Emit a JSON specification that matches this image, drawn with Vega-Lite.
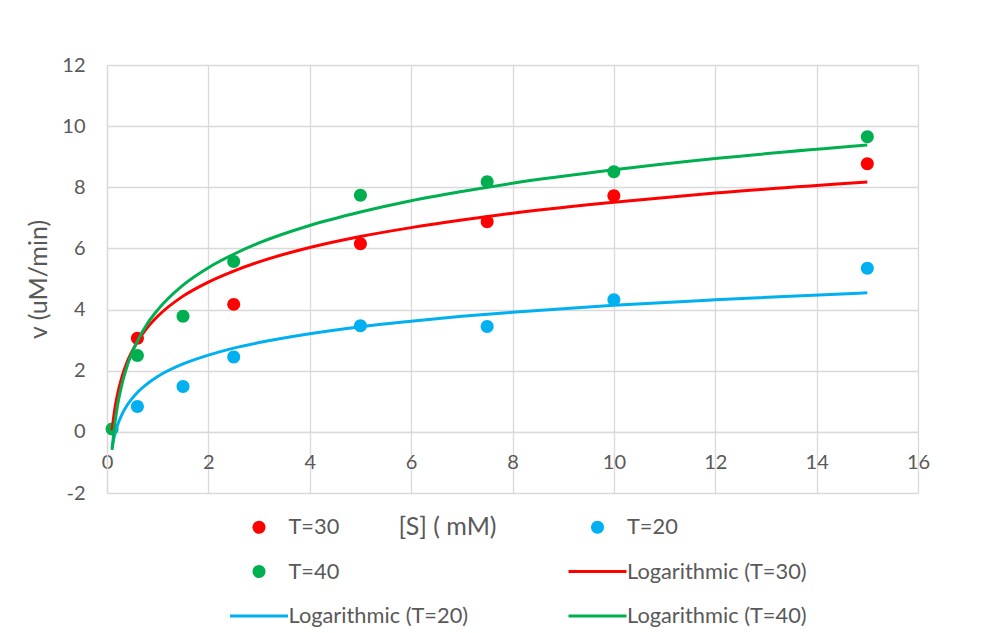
{
  "$schema": "https://vega.github.io/schema/vega-lite/v6.json",
  "width": 811,
  "height": 428,
  "autosize": {"type": "none"},
  "padding": {"left": 107, "top": 65, "right": 68, "bottom": 140},
  "background": "white",
  "config": {
    "font": "Lato",
    "view": {"stroke": null},
    "axis": {
      "labelFont": "Lato", "labelFontSize": 20, "labelColor": "#595959",
      "titleFont": "Lato", "titleFontSize": 25, "titleColor": "#595959", "titleFontWeight": "normal",
      "gridColor": "#d9d9d9", "gridWidth": 1.3, "domainColor": "#d9d9d9", "domainWidth": 1.3,
      "ticks": false
    }
  },
  "datasets": {
    "pts": [
      {"S": 0.6, "v": 3.06, "series": "T=30"},
      {"S": 2.5, "v": 4.17, "series": "T=30"},
      {"S": 5, "v": 6.15, "series": "T=30"},
      {"S": 7.5, "v": 6.87, "series": "T=30"},
      {"S": 10, "v": 7.72, "series": "T=30"},
      {"S": 15, "v": 8.77, "series": "T=30"},
      {"S": 0.6, "v": 0.83, "series": "T=20"},
      {"S": 1.5, "v": 1.48, "series": "T=20"},
      {"S": 2.5, "v": 2.45, "series": "T=20"},
      {"S": 5, "v": 3.47, "series": "T=20"},
      {"S": 7.5, "v": 3.45, "series": "T=20"},
      {"S": 10, "v": 4.32, "series": "T=20"},
      {"S": 15, "v": 5.35, "series": "T=20"},
      {"S": 0.1, "v": 0.09, "series": "T=40"},
      {"S": 0.6, "v": 2.5, "series": "T=40"},
      {"S": 1.5, "v": 3.78, "series": "T=40"},
      {"S": 2.5, "v": 5.57, "series": "T=40"},
      {"S": 5, "v": 7.74, "series": "T=40"},
      {"S": 7.5, "v": 8.18, "series": "T=40"},
      {"S": 10, "v": 8.51, "series": "T=40"},
      {"S": 15, "v": 9.65, "series": "T=40"}
    ],
    "trend": [
      {"S": 0.1, "v": 0.05, "series": "Logarithmic (T=30)"},
      {"S": 0.15, "v": 0.71, "series": "Logarithmic (T=30)"},
      {"S": 0.2, "v": 1.17, "series": "Logarithmic (T=30)"},
      {"S": 0.3, "v": 1.83, "series": "Logarithmic (T=30)"},
      {"S": 0.4, "v": 2.3, "series": "Logarithmic (T=30)"},
      {"S": 0.6, "v": 2.95, "series": "Logarithmic (T=30)"},
      {"S": 0.8, "v": 3.42, "series": "Logarithmic (T=30)"},
      {"S": 1, "v": 3.78, "series": "Logarithmic (T=30)"},
      {"S": 1.5, "v": 4.44, "series": "Logarithmic (T=30)"},
      {"S": 2, "v": 4.9, "series": "Logarithmic (T=30)"},
      {"S": 2.5, "v": 5.26, "series": "Logarithmic (T=30)"},
      {"S": 3, "v": 5.56, "series": "Logarithmic (T=30)"},
      {"S": 4, "v": 6.03, "series": "Logarithmic (T=30)"},
      {"S": 5, "v": 6.39, "series": "Logarithmic (T=30)"},
      {"S": 6, "v": 6.68, "series": "Logarithmic (T=30)"},
      {"S": 7, "v": 6.93, "series": "Logarithmic (T=30)"},
      {"S": 8, "v": 7.15, "series": "Logarithmic (T=30)"},
      {"S": 10, "v": 7.51, "series": "Logarithmic (T=30)"},
      {"S": 12, "v": 7.81, "series": "Logarithmic (T=30)"},
      {"S": 15, "v": 8.17, "series": "Logarithmic (T=30)"},
      {"S": 0.1, "v": -0.52, "series": "Logarithmic (T=20)"},
      {"S": 0.15, "v": -0.11, "series": "Logarithmic (T=20)"},
      {"S": 0.2, "v": 0.18, "series": "Logarithmic (T=20)"},
      {"S": 0.3, "v": 0.59, "series": "Logarithmic (T=20)"},
      {"S": 0.4, "v": 0.88, "series": "Logarithmic (T=20)"},
      {"S": 0.6, "v": 1.29, "series": "Logarithmic (T=20)"},
      {"S": 0.8, "v": 1.58, "series": "Logarithmic (T=20)"},
      {"S": 1, "v": 1.81, "series": "Logarithmic (T=20)"},
      {"S": 1.5, "v": 2.22, "series": "Logarithmic (T=20)"},
      {"S": 2, "v": 2.51, "series": "Logarithmic (T=20)"},
      {"S": 2.5, "v": 2.74, "series": "Logarithmic (T=20)"},
      {"S": 3, "v": 2.92, "series": "Logarithmic (T=20)"},
      {"S": 4, "v": 3.21, "series": "Logarithmic (T=20)"},
      {"S": 5, "v": 3.44, "series": "Logarithmic (T=20)"},
      {"S": 6, "v": 3.62, "series": "Logarithmic (T=20)"},
      {"S": 7, "v": 3.78, "series": "Logarithmic (T=20)"},
      {"S": 8, "v": 3.91, "series": "Logarithmic (T=20)"},
      {"S": 10, "v": 4.14, "series": "Logarithmic (T=20)"},
      {"S": 12, "v": 4.32, "series": "Logarithmic (T=20)"},
      {"S": 15, "v": 4.55, "series": "Logarithmic (T=20)"},
      {"S": 0.1, "v": -0.59, "series": "Logarithmic (T=40)"},
      {"S": 0.15, "v": 0.21, "series": "Logarithmic (T=40)"},
      {"S": 0.2, "v": 0.79, "series": "Logarithmic (T=40)"},
      {"S": 0.3, "v": 1.59, "series": "Logarithmic (T=40)"},
      {"S": 0.4, "v": 2.17, "series": "Logarithmic (T=40)"},
      {"S": 0.6, "v": 2.97, "series": "Logarithmic (T=40)"},
      {"S": 0.8, "v": 3.55, "series": "Logarithmic (T=40)"},
      {"S": 1, "v": 3.99, "series": "Logarithmic (T=40)"},
      {"S": 1.5, "v": 4.8, "series": "Logarithmic (T=40)"},
      {"S": 2, "v": 5.37, "series": "Logarithmic (T=40)"},
      {"S": 2.5, "v": 5.81, "series": "Logarithmic (T=40)"},
      {"S": 3, "v": 6.18, "series": "Logarithmic (T=40)"},
      {"S": 4, "v": 6.75, "series": "Logarithmic (T=40)"},
      {"S": 5, "v": 7.19, "series": "Logarithmic (T=40)"},
      {"S": 6, "v": 7.56, "series": "Logarithmic (T=40)"},
      {"S": 7, "v": 7.86, "series": "Logarithmic (T=40)"},
      {"S": 8, "v": 8.13, "series": "Logarithmic (T=40)"},
      {"S": 10, "v": 8.57, "series": "Logarithmic (T=40)"},
      {"S": 12, "v": 8.94, "series": "Logarithmic (T=40)"},
      {"S": 15, "v": 9.38, "series": "Logarithmic (T=40)"}
    ]
  },
  "encoding": {
    "x": {
      "field": "S", "type": "quantitative",
      "scale": {"domain": [0, 16], "nice": false, "zero": false},
      "axis": {
        "title": "[S] ( mM)", "values": [0, 2, 4, 6, 8, 10, 12, 14, 16],
        "offset": -61.14, "labelPadding": 21, "labelFlush": false,
        "titleX": 340, "titleY": 95, "titleBaseline": "middle", "titleAlign": "center", "titleAnchor": null
      }
    },
    "y": {
      "field": "v", "type": "quantitative",
      "scale": {"domain": [-2, 12], "nice": false, "zero": false},
      "axis": {
        "title": "v (uM/min)", "values": [-2, 0, 2, 4, 6, 8, 10, 12],
        "labelExpr": "datum.value + ''",
        "labelPadding": 22, "titlePadding": 10, "labelFlush": false
      }
    },
    "color": {
      "field": "series", "type": "nominal",
      "scale": {
        "domain": ["T=30", "T=20", "T=40", "Logarithmic (T=30)", "Logarithmic (T=20)", "Logarithmic (T=40)"],
        "range": ["#ff0000", "#00b0f0", "#00b050", "#ff0000", "#00b0f0", "#00b050"]
      },
      "legend": {
        "orient": "none", "legendX": 137.5, "legendY": 447.5, "columns": 2, "title": null,
        "direction": "horizontal",
        "symbolSize": 841, "symbolStrokeWidth": 0,
        "labelFont": "Lato", "labelFontSize": 21.8, "labelColor": "#595959",
        "labelOffset": 15, "columnPadding": 99.5, "rowPadding": 17.5, "padding": 0,
        "labelLimit": 400,
        "encode": {
          "symbols": {
            "update": {
              "fill": {"scale": "color", "field": "value"},
              "shape": {"scale": "shape", "field": "value"},
              "stroke": {"value": "transparent"}
            }
          }
        }
      }
    }
  },
  "layer": [
    {
      "data": {"name": "pts"},
      "mark": {"type": "point", "filled": true, "opacity": 1, "size": 841},
      "encoding": {
        "shape": {
          "field": "series", "type": "nominal",
          "scale": {
            "domain": ["T=30", "T=20", "T=40", "Logarithmic (T=30)", "Logarithmic (T=20)", "Logarithmic (T=40)"],
            "range": [
              "M-0.448,0A0.448,0.448,0,1,0,0.448,0A0.448,0.448,0,1,0,-0.448,0Z",
              "M-0.448,0A0.448,0.448,0,1,0,0.448,0A0.448,0.448,0,1,0,-0.448,0Z",
              "M-0.448,0A0.448,0.448,0,1,0,0.448,0A0.448,0.448,0,1,0,-0.448,0Z",
              "M-2,-0.1H2V0.1H-2Z",
              "M-2,-0.1H2V0.1H-2Z",
              "M-2,-0.1H2V0.1H-2Z"
            ]
          }
        }
      }
    },
    {
      "data": {"name": "trend"},
      "mark": {"type": "line", "strokeWidth": 3, "interpolate": "monotone"},
      "encoding": {"order": {"field": "S", "type": "quantitative"}}
    }
  ]
}
